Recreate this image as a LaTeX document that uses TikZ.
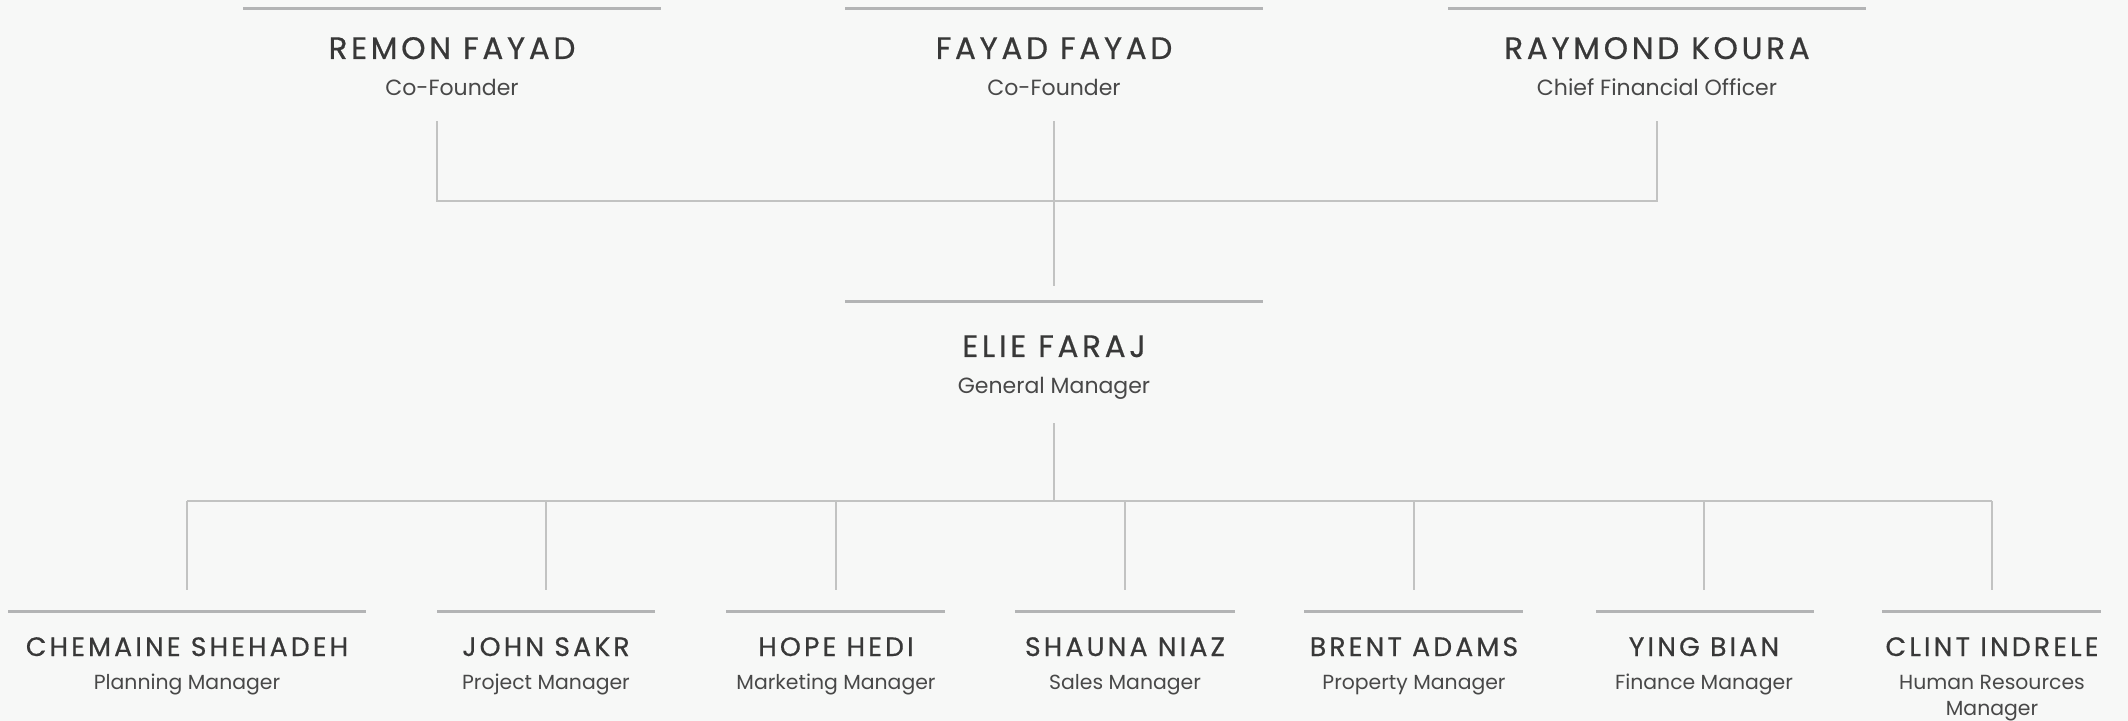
\documentclass[tikz,border=0pt]{standalone}
\usepackage{fontspec}
\setmainfont{Poppins}
\newfontfamily\namefont[LetterSpace=12, FakeBold=0.6]{Poppins}
\usetikzlibrary{positioning}
\definecolor{bgcol}{HTML}{F7F8F7}
\definecolor{barcol}{HTML}{B3B4B5}
\definecolor{linkcol}{HTML}{C2C3C2}
\definecolor{namecol}{HTML}{383838}
\definecolor{rolecol}{HTML}{484848}
\tikzset{
  bar/.style={line width=1.5pt, barcol},
  link/.style={line width=0.7pt, linkcol},
  bigname/.style={anchor=base, inner sep=0pt, text=namecol, font=\namefont\fontsize{15.5}{18}\selectfont},
  smallname/.style={anchor=base, inner sep=0pt, text=namecol, font=\namefont\fontsize{13.3}{16}\selectfont},
  role/.style={anchor=base, inner sep=0pt, text=rolecol, align=center, font=\fontsize{11}{13}\selectfont},
  smallrole/.style={role, font=\fontsize{10.2}{13}\selectfont}
}
\begin{document}
\begin{tikzpicture}[x=0.5pt, y=-0.5pt]
    \fill [bgcol] (0,0) rectangle (2128,721);
    \useasboundingbox (0,0) rectangle (2128,721);
    % top row
    \coordinate (RemonL) at (243,9);
    \coordinate (RemonR) at (661,9);
    \coordinate (FayadL) at (845,9);
    \coordinate (FayadR) at (1263,9);
    \coordinate (RaymondL) at (1448,9);
    \coordinate (RaymondR) at (1866,9);
    \draw [bar] (RemonL) -- (RemonR);
    \draw [bar] (FayadL) -- (FayadR);
    \draw [bar] (RaymondL) -- (RaymondR);
    \node [bigname] (Remon) at (452,59) {REMON FAYAD};
    \node [role] (RemonRole) at (452,96) {Co-Founder};
    \node [bigname] (Fayad) at (1054,59) {FAYAD FAYAD};
    \node [role] (FayadRole) at (1054,96) {Co-Founder};
    \node [bigname] (Raymond) at (1657,59) {RAYMOND KOURA};
    \node [role] (RaymondRole) at (1657,96) {Chief Financial Officer};
    % owners to general manager
    \coordinate (RemonDrop) at (437,121);
    \coordinate (RemonBus) at (437,201);
    \coordinate (FayadDrop) at (1054,121);
    \coordinate (FayadBus) at (1054,286);
    \coordinate (RaymondDrop) at (1657,121);
    \coordinate (RaymondBus) at (1657,201);
    \draw [link] (RemonDrop) -- (RemonBus) -- (RaymondBus) -- (RaymondDrop);
    \draw [link] (FayadDrop) -- (FayadBus);
    % general manager
    \coordinate (ElieL) at (845,302);
    \coordinate (ElieR) at (1263,302);
    \draw [bar] (ElieL) -- (ElieR);
    \node [bigname] (Elie) at (1054,357) {ELIE FARAJ};
    \node [role] (ElieRole) at (1054,393) {General Manager};
    \coordinate (ElieDrop) at (1054,423);
    \coordinate (ElieBus) at (1054,501);
    \coordinate (BusL) at (187,501);
    \coordinate (BusR) at (1992,501);
    \draw [link] (ElieDrop) -- (ElieBus);
    \draw [link] (BusL) -- (BusR);
    % managers
    \coordinate (ChemaineTop) at (187,590);
    \coordinate (JohnBus) at (546,501);
    \coordinate (JohnTop) at (546,590);
    \coordinate (HopeBus) at (836,501);
    \coordinate (HopeTop) at (836,590);
    \coordinate (ShaunaBus) at (1125,501);
    \coordinate (ShaunaTop) at (1125,590);
    \coordinate (BrentBus) at (1414,501);
    \coordinate (BrentTop) at (1414,590);
    \coordinate (YingBus) at (1704,501);
    \coordinate (YingTop) at (1704,590);
    \coordinate (ClintTop) at (1992,590);
    \draw [link] (BusL) -- (ChemaineTop);
    \draw [link] (JohnBus) -- (JohnTop);
    \draw [link] (HopeBus) -- (HopeTop);
    \draw [link] (ShaunaBus) -- (ShaunaTop);
    \draw [link] (BrentBus) -- (BrentTop);
    \draw [link] (YingBus) -- (YingTop);
    \draw [link] (BusR) -- (ClintTop);
    \draw [bar] (8,611) -- (366,611);
    \draw [bar] (437,611) -- (655,611);
    \draw [bar] (726,611) -- (945,611);
    \draw [bar] (1015,611) -- (1235,611);
    \draw [bar] (1304,611) -- (1523,611);
    \draw [bar] (1596,611) -- (1814,611);
    \draw [bar] (1882,611) -- (2101,611);
    \node [smallname] (Chemaine) at (187,656) {CHEMAINE SHEHADEH};
    \node [smallrole] (ChemaineRole) at (187,689) {Planning Manager};
    \node [smallname] (John) at (546,656) {JOHN SAKR};
    \node [smallrole] (JohnRole) at (546,689) {Project Manager};
    \node [smallname] (Hope) at (836,656) {HOPE HEDI};
    \node [smallrole] (HopeRole) at (836,689) {Marketing Manager};
    \node [smallname] (Shauna) at (1125,656) {SHAUNA NIAZ};
    \node [smallrole] (ShaunaRole) at (1125,689) {Sales Manager};
    \node [smallname] (Brent) at (1414,656) {BRENT ADAMS};
    \node [smallrole] (BrentRole) at (1414,689) {Property Manager};
    \node [smallname] (Ying) at (1704,656) {YING BIAN};
    \node [smallrole] (YingRole) at (1704,689) {Finance Manager};
    \node [smallname] (Clint) at (1992,656) {CLINT INDRELE};
    \node [smallrole] (ClintRole) at (1992,715) {Human Resources\\Manager};
\end{tikzpicture}
\end{document}
